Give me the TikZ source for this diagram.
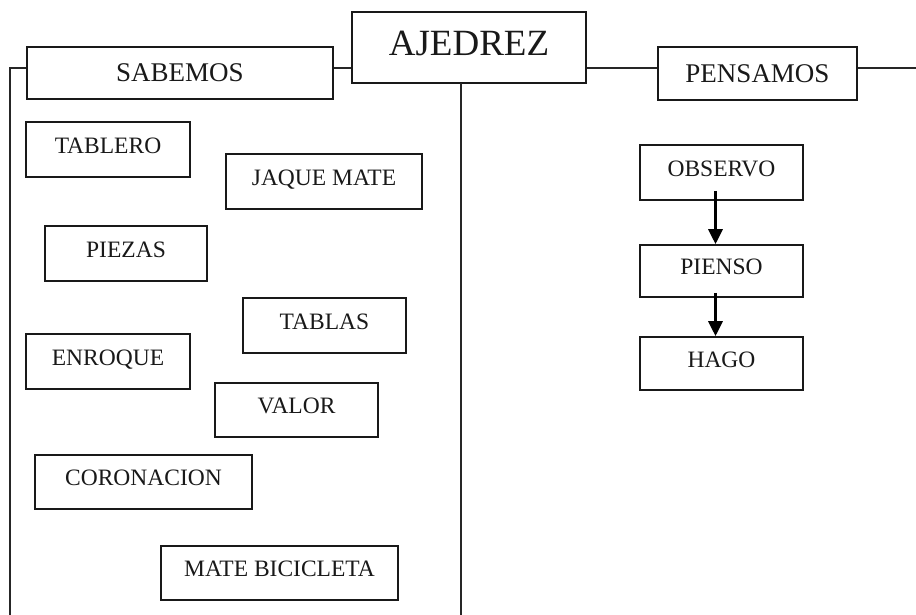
\documentclass[tikz,border=0pt]{standalone}
\usepackage{fontspec}
\setmainfont{Liberation Serif}
\usetikzlibrary{arrows.meta}
\begin{document}
\begin{tikzpicture}[x=1pt,y=-1pt,
  box/.style={draw=black!90, line width=1.6pt, fill=white, inner sep=0pt, text=black!90},
  smallbox/.style={box, font=\fontsize{23.5}{26}\selectfont, text height=15.5pt, text depth=8pt},
  midbox/.style={box, font=\fontsize{27}{30}\selectfont, text height=17.8pt, text depth=0pt},
  bigbox/.style={box, font=\fontsize{37}{40}\selectfont, text height=24.4pt, text depth=8pt},
  link/.style={draw=black!85, line width=1.3pt},
  flow/.style={draw=black, line width=3.2pt, -{Triangle[length=15pt,width=14pt]}}
]
\useasboundingbox (0,0) rectangle (916,615);
\fill[white] (0,0) rectangle (916,615);

% main boxes
\node[bigbox, minimum width=234pt, minimum height=71pt] (ajedrez) at (469,47.5) {AJEDREZ};
\node[midbox, minimum width=306pt, minimum height=52pt] (sabemos) at (180,73) {SABEMOS};
\node[midbox, minimum width=199pt, minimum height=53pt] (pensamos) at (757.5,73.5) {PENSAMOS};

% connector coordinates
\coordinate (lcorner) at (10,68);
\coordinate (lbottom) at (10,615);
\coordinate (ctop) at (461,83);
\coordinate (cbottom) at (461,615);
\coordinate (rend) at (916,68);

\draw[link] (sabemos.west |- lcorner) -- (lcorner) -- (lbottom);
\draw[link] (sabemos.east |- lcorner) -- (ajedrez.west |- lcorner);
\draw[link] (ajedrez.east |- lcorner) -- (pensamos.west |- lcorner);
\draw[link] (pensamos.east |- rend) -- (rend);
\draw[link] (ctop) -- (cbottom);

% SABEMOS items
\node[smallbox, minimum width=164pt, minimum height=55pt] (tablero) at (108,149.5) {TABLERO};
\node[smallbox, minimum width=196pt, minimum height=55pt] (jaque) at (324,181.5) {JAQUE MATE};
\node[smallbox, minimum width=162pt, minimum height=55pt] (piezas) at (126,253.5) {PIEZAS};
\node[smallbox, minimum width=163pt, minimum height=55pt] (tablas) at (324.5,325.5) {TABLAS};
\node[smallbox, minimum width=164pt, minimum height=55pt] (enroque) at (108,361.5) {ENROQUE};
\node[smallbox, minimum width=163pt, minimum height=54pt] (valor) at (296.5,410) {VALOR};
\node[smallbox, minimum width=217pt, minimum height=54pt] (coronacion) at (143.5,482) {CORONACION};
\node[smallbox, minimum width=237pt, minimum height=54pt] (bicicleta) at (279.5,573) {MATE BICICLETA};

% PENSAMOS items
\node[smallbox, minimum width=163pt, minimum height=55pt] (observo) at (721.5,172.5) {OBSERVO};
\node[smallbox, minimum width=163pt, minimum height=52pt] (pienso) at (721.5,271) {PIENSO};
\node[smallbox, minimum width=163pt, minimum height=53pt] (hago) at (721.5,363.5) {HAGO};

\draw[flow] ([xshift=-6pt,yshift=10pt]observo.south) -- ([xshift=-6pt]pienso.north);
\draw[flow] ([xshift=-6pt,yshift=5pt]pienso.south) -- ([xshift=-6pt]hago.north);
\end{tikzpicture}
\end{document}
